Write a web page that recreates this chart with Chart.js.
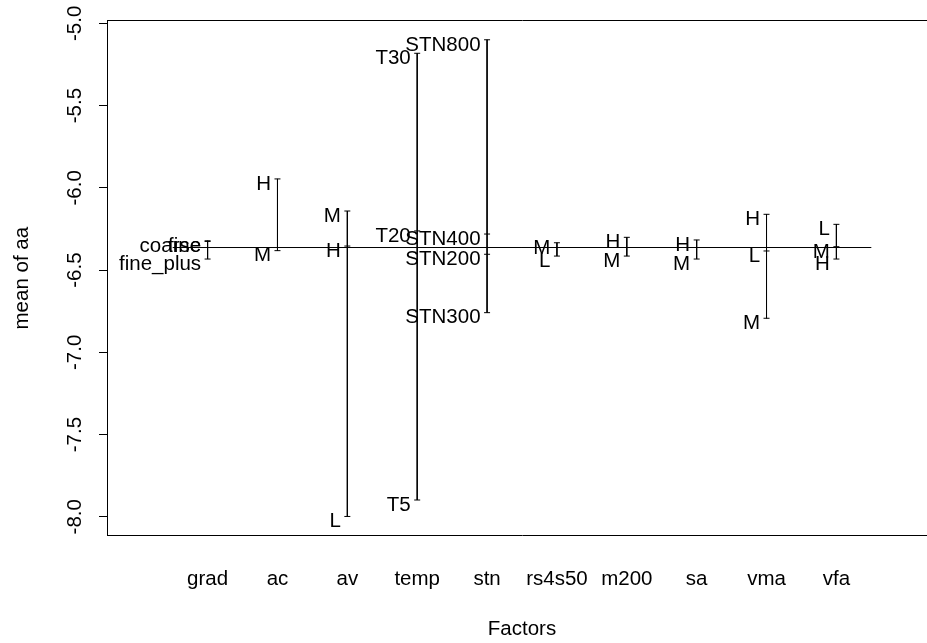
<!DOCTYPE html>
<html>
<head>
<meta charset="utf-8">
<script src="https://cdn.jsdelivr.net/npm/chart.js@4"></script>
<style>
  html, body { margin: 0; padding: 0; overflow: hidden; background: #fff; }
  canvas { display: block; }
</style>
</head>
<body>
<canvas id="c" width="945" height="643"></canvas>
<script>
// factor names along the x axis
const factors = ['grad', 'ac', 'av', 'temp', 'stn', 'rs4s50', 'm200', 'sa', 'vma', 'vfa']

// level labels and level means for each factor
const gradLevels = ['coarse', 'fine', 'fine_plus']
const gradMeans  = [-6.322, -6.326, -6.433]
const acLevels   = ['H', 'M']
const acMeans    = [-5.946, -6.382]
const avLevels   = ['M', 'H', 'L']
const avMeans    = [-6.141, -6.354, -7.998]
const tempLevels = ['T30', 'T20', 'T5']
const tempMeans  = [-5.182, -6.262, -7.898]
const stnLevels  = ['STN800', 'STN400', 'STN200', 'STN300']
const stnMeans   = [-5.100, -6.281, -6.404, -6.759]
const rsLevels   = ['M', 'L']
const rsMeans    = [-6.334, -6.415]
const m200Levels = ['H', 'M']
const m200Means  = [-6.301, -6.415]
const saLevels   = ['H', 'M']
const saMeans    = [-6.317, -6.433]
const vmaLevels  = ['H', 'L', 'M']
const vmaMeans   = [-6.161, -6.384, -6.793]
const vfaLevels  = ['L', 'M', 'H']
const vfaMeans   = [-6.222, -6.358, -6.433]

// overall mean of aa
const grandMean = -6.363

// y axis tick values
const yTicks = [-8.0, -7.5, -7.0, -6.5, -6.0, -5.5, -5.0]

const levelSets = [
  [gradLevels, gradMeans], [acLevels, acMeans], [avLevels, avMeans],
  [tempLevels, tempMeans], [stnLevels, stnMeans], [rsLevels, rsMeans],
  [m200Levels, m200Means], [saLevels, saMeans], [vmaLevels, vmaMeans],
  [vfaLevels, vfaMeans],
]

const FONT = 'Liberation Sans, Arial, Helvetica, sans-serif'
const FSIZE = 20.5

const factorDatasets = levelSets.map(([levels, means], i) => ({
  label: factors[i],
  levels,
  data: means.map(v => ({ x: i + 1, y: v })),
  showLine: true,
  borderColor: '#000',
  borderWidth: 1,
  pointStyle: 'line',
  pointRadius: 3,
  pointBorderColor: '#000',
  pointBorderWidth: 1,
}))

// level labels, right-aligned just left of each factor line
const levelLabels = {
  id: 'levelLabels',
  afterDatasetsDraw(chart) {
    const { ctx, scales } = chart
    ctx.save()
    ctx.font = FSIZE + 'px ' + FONT
    ctx.fillStyle = '#000'
    ctx.textAlign = 'right'
    ctx.textBaseline = 'alphabetic'
    chart.data.datasets.forEach(ds => {
      if (!ds.levels) return
      ds.data.forEach((p, j) => {
        const x = scales.x.getPixelForValue(p.x) - 6.5
        const y = scales.y.getPixelForValue(p.y) + 10.8
        ctx.fillText(ds.levels[j], x, y)
      })
    })
    ctx.restore()
  },
}

new Chart(document.getElementById('c'), {
  type: 'scatter',
  data: {
    datasets: [
      ...factorDatasets,
      {
        label: 'mean',
        data: [{ x: 0.5, y: grandMean }, { x: factors.length + 0.5, y: grandMean }],
        showLine: true,
        borderColor: '#000',
        borderWidth: 1,
        pointRadius: 0,
      },
    ],
  },
  options: {
    responsive: false,
    animation: false,
    devicePixelRatio: 1,
    layout: { padding: { left: 0, right: 8, top: 20.7, bottom: 0 } },
    plugins: { legend: { display: false }, tooltip: { enabled: false } },
    scales: {
      x: {
        type: 'linear',
        position: 'bottom',
        min: -0.44,
        max: 11.44,
        afterFit: s => { s.height = 107.3 },
        afterBuildTicks: s => { s.ticks = factors.map((f, i) => ({ value: i + 1 })) },
        grid: { display: false, drawTicks: false },
        border: { display: true, color: '#000', width: 1 },
        ticks: {
          autoSkip: false,
          maxRotation: 0,
          padding: 31,
          color: '#000',
          font: { family: FONT, size: FSIZE },
          callback: v => factors[v - 1],
        },
        title: {
          display: true,
          text: 'Factors',
          color: '#000',
          font: { family: FONT, size: FSIZE },
          padding: { top: 0, bottom: 1 },
        },
      },
      xTop: {
        type: 'linear',
        position: 'top',
        afterFit: s => { s.height = 0 },
        grid: { display: false, drawTicks: false },
        border: { display: true, color: '#000', width: 1 },
        ticks: { display: false },
      },
      y: {
        type: 'linear',
        position: 'left',
        min: -8.115,
        max: -4.984,
        afterFit: s => { s.width = 107 },
        afterBuildTicks: s => { s.ticks = yTicks.map(v => ({ value: v })) },
        grid: { display: true, drawOnChartArea: false, drawTicks: true, tickLength: 8, color: '#000' },
        border: { display: true, color: '#000', width: 1 },
        ticks: {
          minRotation: 90,
          maxRotation: 90,
          crossAlign: 'center',
          padding: 6,
          color: '#000',
          font: { family: FONT, size: FSIZE },
          callback: v => v.toFixed(1),
        },
        title: {
          display: true,
          text: 'mean of aa',
          color: '#000',
          font: { family: FONT, size: FSIZE },
          padding: { top: 10, bottom: 0 },
        },
      },
    },
  },
  plugins: [levelLabels],
})
</script>
</body>
</html>
